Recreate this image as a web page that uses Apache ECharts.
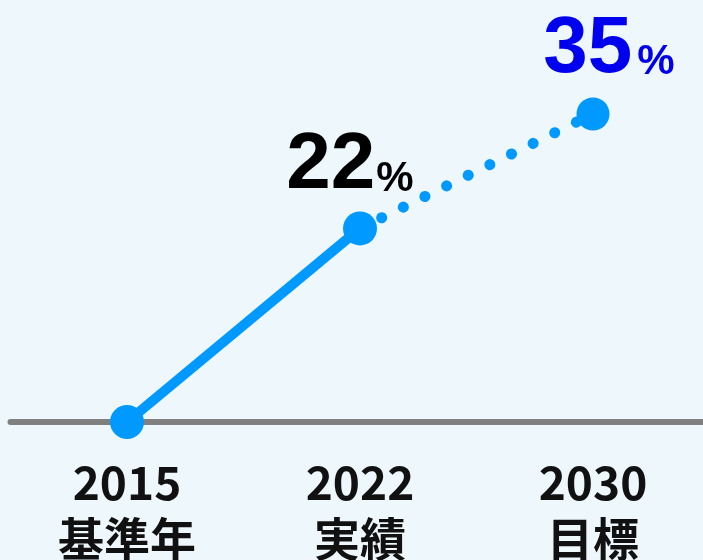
<!DOCTYPE html>
<html>
<head>
<meta charset="utf-8">
<script src="https://cdn.jsdelivr.net/npm/echarts@6/dist/echarts.min.js"></script>
<style>
  html, body { margin: 0; padding: 0; background: #eef7fb; }
  #chart { width: 703px; height: 560px; }
</style>
</head>
<body>
<div id="chart"></div>
<script>
// 年と区分
const years = ['2015', '2022', '2030'];
const kinds = ['基準年', '実績', '目標'];
// 実績（実線）と目標（点線）
const actual = [0, 22, null];
const target = [null, 22, 35];

const lineColor = '#0099ff';

const chart = echarts.init(document.getElementById('chart'));

function pctLabel(v, color, dist, offX, gap) {
  return {
    show: true,
    position: 'top',
    distance: dist,
    offset: [offX, 0],
    formatter: '{n|' + v + '}{p|%}',
    rich: {
      n: { fontSize: 80, fontWeight: 'bold', color: color, fontFamily: 'Liberation Sans', verticalAlign: 'bottom' },
      p: { fontSize: 42, fontWeight: 'bold', color: color, fontFamily: 'Liberation Sans', verticalAlign: 'bottom', padding: [0, 0, 6, gap] }
    }
  };
}

const option = {
  backgroundColor: '#eef7fb',
  grid: { left: 10.5, right: -6.5, top: 114, bottom: 138, outerBoundsMode: 'none', containLabel: false },
  xAxis: {
    type: 'category',
    data: years.map((y, i) => y + '\n' + kinds[i]),
    boundaryGap: true,
    axisLine: { lineStyle: { color: '#808080', width: 6 } },
    axisTick: { show: false },
    axisLabel: {
      margin: 33,
      color: '#111',
      fontSize: 46,
      fontWeight: 'bold',
      lineHeight: 56,
      fontFamily: 'Noto Sans CJK JP'
    }
  },
  yAxis: {
    type: 'value',
    min: 0,
    max: 35,
    show: false,
    splitLine: { show: false }
  },
  series: [
    {
      // 2022 → 2030 目標（点線）
      type: 'line',
      data: target.map((v, i) => i === 2
        ? { value: v, label: pctLabel(v, '#0000ee', 8, 16, 5) }
        : { value: v, symbol: 'none' }),
      symbol: 'circle',
      symbolSize: 33,
      itemStyle: { color: lineColor },
      lineStyle: { color: lineColor, width: 11, type: [0.1, 24], cap: 'round' },
      z: 2
    },
    {
      // 2015 → 2022 実績（実線）
      type: 'line',
      data: actual.map((v, i) => i === 1
        ? { value: v, label: pctLabel(v, '#000', 5, -10, 1) }
        : v),
      symbol: 'circle',
      symbolSize: 34,
      itemStyle: { color: lineColor },
      lineStyle: { color: lineColor, width: 10 },
      z: 3
    }
  ]
};

chart.setOption(option);
</script>
</body>
</html>
